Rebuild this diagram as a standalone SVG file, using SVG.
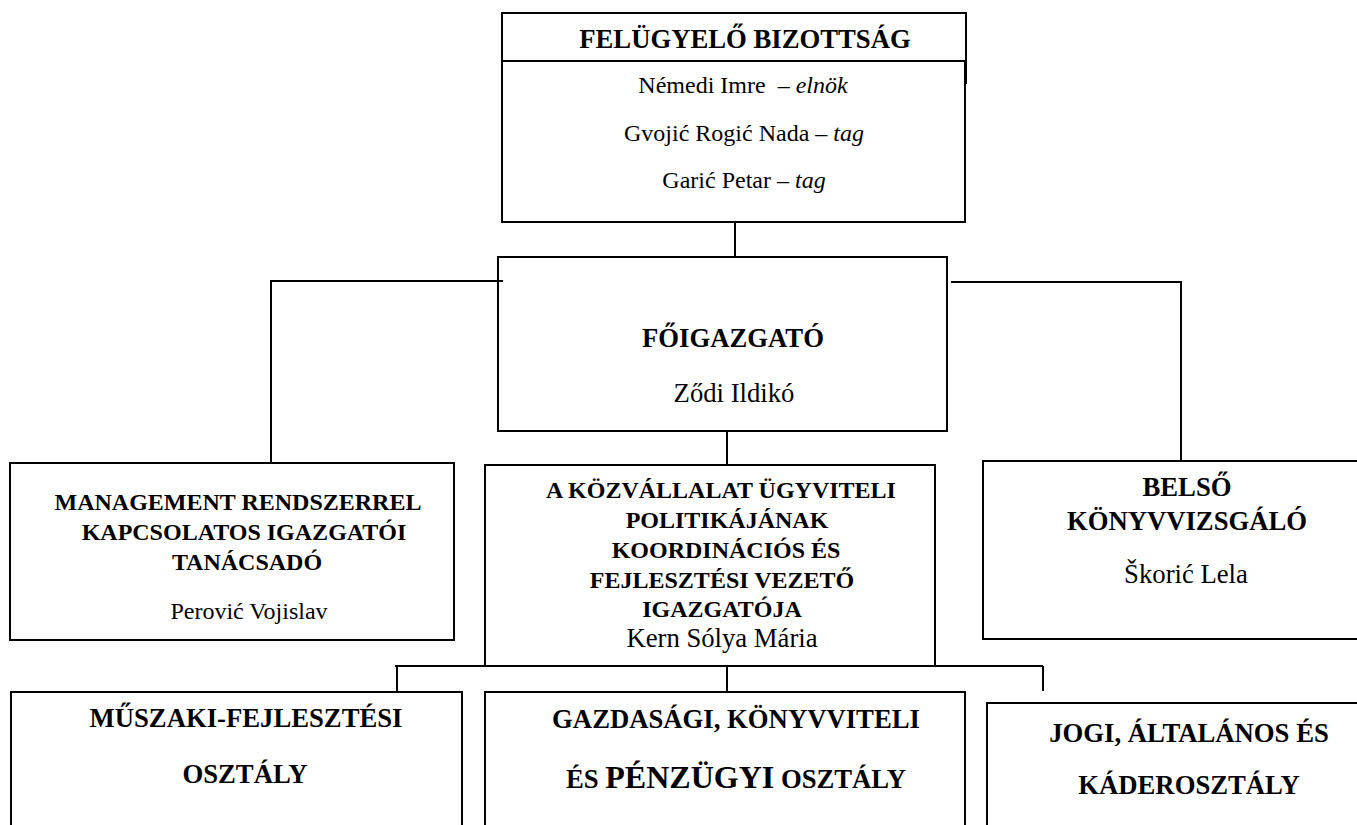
<svg xmlns="http://www.w3.org/2000/svg" width="1357" height="825" viewBox="0 0 1357 825">
<style>
.box{fill:#fff;stroke:#000;stroke-width:2}
.ln{fill:none;stroke:#000;stroke-width:2}
text{font-family:"Liberation Serif","Times New Roman",serif;fill:#000;text-anchor:middle}
.b{font-weight:bold}
.s20{font-size:26.7px}
.s18{font-size:24px}
</style>
<rect width="1357" height="825" fill="#fff"/>
<g id="felugyelo">
<rect class="box" x="502" y="13" width="464" height="70"/>
<rect class="box" x="502" y="61" width="463" height="161"/>
<text class="b s20" x="745" y="48">FELÜGYELŐ BIZOTTSÁG</text>
<text class="s18" x="743" y="93" xml:space="preserve">Némedi Imre  – <tspan font-style="italic">elnök</tspan></text>
<text class="s18" x="744" y="141">Gvojić Rogić Nada – <tspan font-style="italic">tag</tspan></text>
<text class="s18" x="744" y="188">Garić Petar – <tspan font-style="italic">tag</tspan></text>
</g>
<g id="foigazgato">
<rect class="box" x="498" y="257" width="449" height="174"/>
<text class="b s20" x="733" y="347">FŐIGAZGATÓ</text>
<text class="s20" x="734" y="402">Ződi Ildikó</text>
</g>
<g id="management">
<rect class="box" x="10" y="463" width="444" height="177"/>
<text class="b s18" x="238" y="510">MANAGEMENT RENDSZERREL</text>
<text class="b s18" x="244" y="540">KAPCSOLATOS IGAZGATÓI</text>
<text class="b s18" x="247" y="570">TANÁCSADÓ</text>
<text class="s18" x="249" y="619">Perović Vojislav</text>
</g>
<g id="kozvallalat">
<rect class="box" x="485" y="465" width="450" height="201"/>
<text class="b s18" x="721" y="498">A KÖZVÁLLALAT ÜGYVITELI</text>
<text class="b s18" x="727" y="528">POLITIKÁJÁNAK</text>
<text class="b s18" x="726" y="558">KOORDINÁCIÓS ÉS</text>
<text class="b s18" x="722" y="588">FEJLESZTÉSI VEZETŐ</text>
<text class="b s18" x="722" y="617">IGAZGATÓJA</text>
<text class="s20" x="722" y="647">Kern Sólya Mária</text>
</g>
<g id="belso">
<rect class="box" x="983" y="461" width="380" height="178"/>
<text class="b s20" x="1187" y="496">BELSŐ</text>
<text class="b s20" x="1187" y="530">KÖNYVVIZSGÁLÓ</text>
<text class="s20" x="1186" y="583">Škorić Lela</text>
</g>
<g id="muszaki">
<rect class="box" x="11" y="692" width="451" height="145"/>
<text class="b s20" x="246" y="727">MŰSZAKI-FEJLESZTÉSI</text>
<text class="b s20" x="245" y="783">OSZTÁLY</text>
</g>
<g id="gazdasagi">
<rect class="box" x="485" y="692" width="480" height="145"/>
<text class="b s20" x="736" y="728">GAZDASÁGI, KÖNYVVITELI</text>
<text class="b s20" x="736" y="788">ÉS <tspan font-size="32px">PÉNZÜGYI</tspan> OSZTÁLY</text>
</g>
<g id="jogi">
<rect class="box" x="987" y="703" width="380" height="135"/>
<text class="b s20" x="1189" y="742">JOGI, ÁLTALÁNOS ÉS</text>
<text class="b s20" x="1189" y="794">KÁDEROSZTÁLY</text>
</g>
<g id="connectors">
<path class="ln" d="M735,222V257"/>
<path class="ln" d="M503,281H271V463"/>
<path class="ln" d="M951,282H1181V461"/>
<path class="ln" d="M727,431V465"/>
<path class="ln" d="M395,666H1043"/>
<path class="ln" d="M397,666V692M727,666V692M1043,666V691"/>
</g>
</svg>
